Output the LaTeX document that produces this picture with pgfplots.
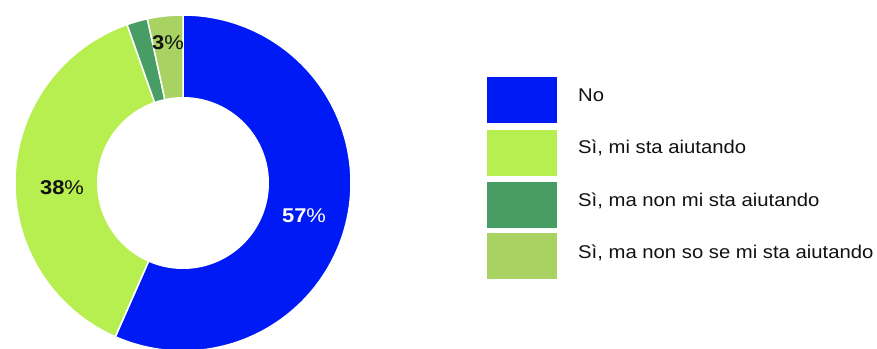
\documentclass[border=0pt]{standalone}
\usepackage{pgfplots}
\pgfplotsset{compat=1.18}
\usepackage{fontspec}
\setmainfont[FakeStretch=1.10]{Liberation Sans}
\definecolor{cNo}{RGB}{0,26,245}
\definecolor{cSiA}{RGB}{183,238,80}
\definecolor{cSiB}{RGB}{72,157,100}
\definecolor{cSiC}{RGB}{168,210,98}
\definecolor{txt}{RGB}{17,17,17}
% data (percent)
\def\vA{56.6}\def\vB{38.0}\def\vC{2.0}\def\vD{3.4}
\pgfmathsetmacro\aA{3.6*\vA}
\pgfmathsetmacro\aB{\aA+3.6*\vB}
\pgfmathsetmacro\aC{\aB+3.6*\vC}
\pgfmathsetmacro\aD{\aC+3.6*\vD}
\begin{document}
\begin{tikzpicture}
\useasboundingbox (0,0) rectangle (877bp,349bp);
\begin{axis}[at={(0,0)}, anchor=south west, scale only axis,
  width=877bp, height=349bp, xmin=0, xmax=877, ymin=0, ymax=349,
  hide axis, clip=false]
\addplot[draw=white, line width=1.5bp, fill=cNo, domain=0:\aA, samples=150]
  ({183+168*sin(x)},{166+168*cos(x)}) -- (axis cs:183,166) -- cycle;
\addplot[draw=white, line width=1.5bp, fill=cSiA, domain=\aA:\aB, samples=120]
  ({183+168*sin(x)},{166+168*cos(x)}) -- (axis cs:183,166) -- cycle;
\addplot[draw=white, line width=1.5bp, fill=cSiB, domain=\aB:\aC, samples=20]
  ({183+168*sin(x)},{166+168*cos(x)}) -- (axis cs:183,166) -- cycle;
\addplot[draw=white, line width=1.5bp, fill=cSiC, domain=\aC:\aD, samples=20]
  ({183+168*sin(x)},{166+168*cos(x)}) -- (axis cs:183,166) -- cycle;
\addplot[fill=white, draw=none, domain=0:360, samples=180]
  ({183+86*sin(x)},{166+86*cos(x)}) -- cycle;
% legend swatches
\addplot[fill=cNo, draw=none] coordinates {(487,226) (557,226) (557,272) (487,272)} -- cycle;
\addplot[fill=cSiA, draw=none] coordinates {(487,173) (557,173) (557,219) (487,219)} -- cycle;
\addplot[fill=cSiB, draw=none] coordinates {(487,121) (557,121) (557,167) (487,167)} -- cycle;
\addplot[fill=cSiC, draw=none] coordinates {(487,70) (557,70) (557,116) (487,116)} -- cycle;
\begin{scope}[every node/.style={anchor=base west, inner sep=0pt, text=txt, font=\fontsize{18.5}{20}\selectfont}]
\node at (axis cs:578,247.3) {No};
\node at (axis cs:578,195) {Sì, mi sta aiutando};
\node at (axis cs:578,142.7) {Sì, ma non mi sta aiutando};
\node at (axis cs:578,90.4) {Sì, ma non so se mi sta aiutando};
\end{scope}
\node[font=\fontsize{20}{22}\selectfont, text=white, inner sep=0pt] at (axis cs:304,133) {\textbf{57}\%};
\node[font=\fontsize{20}{22}\selectfont, text=txt, inner sep=0pt] at (axis cs:62,161) {\textbf{38}\%};
\node[font=\fontsize{20}{22}\selectfont, text=txt, inner sep=0pt] at (axis cs:168,306.5) {\textbf{3}\%};
\end{axis}
\end{tikzpicture}
\end{document}
